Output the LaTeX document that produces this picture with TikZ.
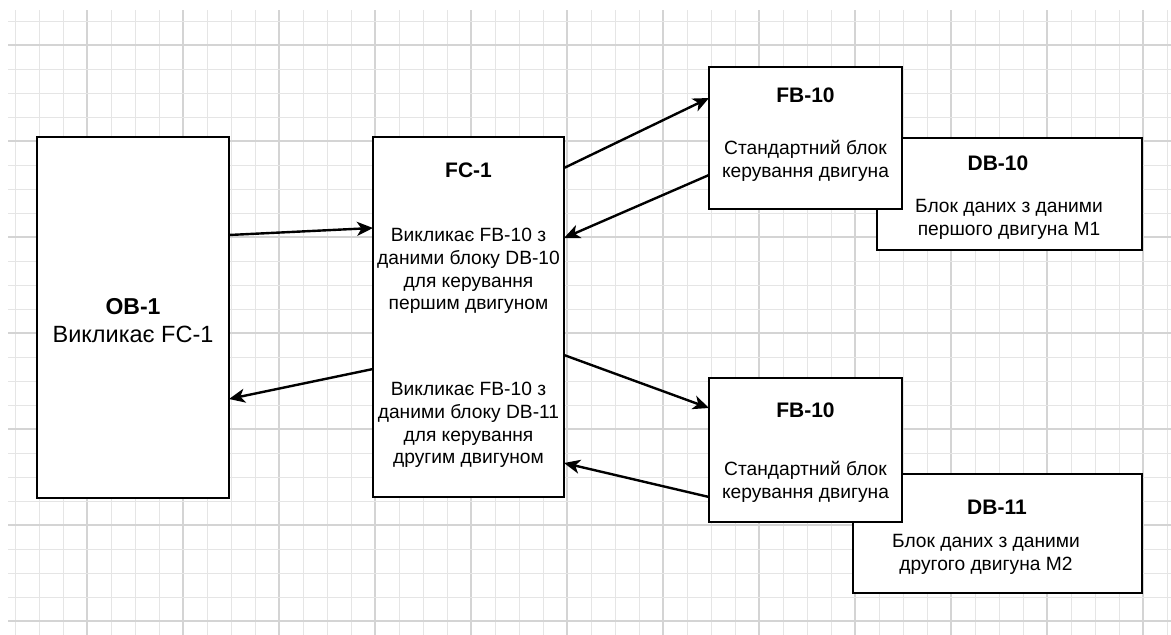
\documentclass[tikz,border=0pt]{standalone}
\usepackage{fontspec}
\setmainfont{Liberation Sans}
\usetikzlibrary{arrows.meta}
\tikzset{
  blk/.style={draw=black, line width=2.6pt, fill=white, rectangle, inner sep=0pt, outer sep=0pt},
  ttl/.style={font=\fontsize{21}{24}\selectfont\bfseries, inner sep=0pt},
  bdy/.style={font=\fontsize{19.2}{22.8}\selectfont, align=center, inner sep=0pt},
  conn/.style={line width=2.4pt, -{Stealth[length=16pt,width=14pt,inset=4.5pt]}},
  gminor/.style={draw=black!10, line width=1pt},
  gmajor/.style={draw=black!17, line width=1.1pt}
}
\begin{document}
\begin{tikzpicture}[x=1pt,y=-1pt]
\useasboundingbox (0,0) rectangle (1171,635);
\fill[white] (0,0) rectangle (1171,635);
% grid
\foreach \i in {0,...,48} {
  \pgfmathtruncatemacro{\m}{mod(\i,4)}
  \ifnum\m=3 \draw[gmajor] ({15+24*\i},10) -- ({15+24*\i},635);
  \else \draw[gminor] ({15+24*\i},10) -- ({15+24*\i},635); \fi
}
\foreach \j in {0,...,25} {
  \pgfmathtruncatemacro{\m}{mod(\j,4)}
  \ifnum\m=1 \draw[gmajor] (8,{21+24*\j}) -- (1171,{21+24*\j});
  \else \draw[gminor] (8,{21+24*\j}) -- (1171,{21+24*\j}); \fi
}
% boxes
\node[blk, minimum width=192pt, minimum height=361pt] (ob) at (133,317.5) {};
\node[blk, minimum width=191pt, minimum height=360pt] (fc) at (468.5,317) {};
\node[blk, minimum width=265pt, minimum height=112pt] (db10) at (1009.5,194) {};
\node[blk, minimum width=193pt, minimum height=142pt] (fba) at (805.5,138) {};
\node[blk, minimum width=289pt, minimum height=119pt] (db11) at (997.5,533.5) {};
\node[blk, minimum width=193pt, minimum height=144pt] (fbb) at (805.5,450) {};
% texts
\node[ttl, font=\fontsize{23}{26}\selectfont\bfseries] (obT) at (133,307) {OB-1};
\node[bdy, font=\fontsize{23.5}{26}\selectfont] (obB) at (133,334) {Викликає FC-1};
\node[ttl] (fcT) at (468.5,170) {FC-1};
\node[bdy] (fcB1) at (468.5,271) {Викликає FB-10 з\\даними блоку DB-10\\для керування\\першим двигуном};
\node[bdy] (fcB2) at (468.5,425) {Викликає FB-10 з\\даними блоку DB-11\\для керування\\другим двигуном};
\node[ttl] (fbaT) at (805.5,95) {FB-10};
\node[bdy] (fbaB) at (805.5,161) {Стандартний блок\\керування двигуна};
\node[ttl] (db10T) at (998,163) {DB-10};
\node[bdy] (db10B) at (1009,219) {Блок даних з даними\\першого двигуна М1};
\node[ttl] (fbbT) at (805.5,410) {FB-10};
\node[bdy] (fbbB) at (805.5,482) {Стандартний блок\\керування двигуна};
\node[ttl] (db11T) at (997,507) {DB-11};
\node[bdy] (db11B) at (986,554) {Блок даних з даними\\другого двигуна М2};
% connectors
\draw[conn] (ob.east |- 0,235) -- (fc.west |- 0,228);
\draw[conn] (fc.west |- 0,369) -- (ob.east |- 0,399);
\draw[conn] (fc.east |- 0,168) -- (fba.west |- 0,98);
\draw[conn] (fba.west |- 0,175) -- (fc.east |- 0,238);
\draw[conn] (fc.east |- 0,355) -- (fbb.west |- 0,408);
\draw[conn] (fbb.west |- 0,497) -- (fc.east |- 0,463);
\end{tikzpicture}
\end{document}
